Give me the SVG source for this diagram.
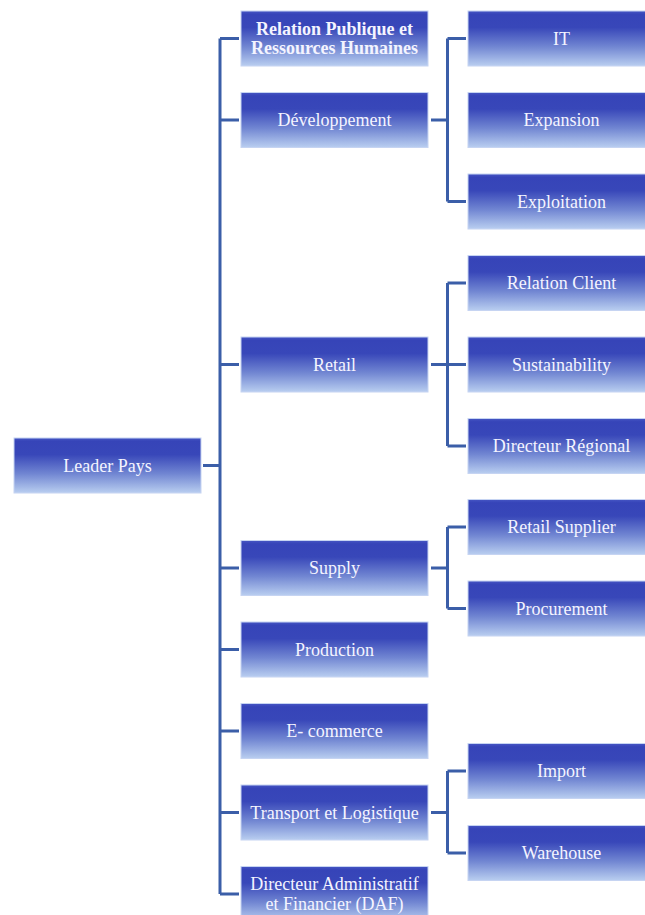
<svg xmlns="http://www.w3.org/2000/svg" width="645" height="915" viewBox="0 0 645 915">
<defs>
<linearGradient id="g" x1="0" y1="0" x2="0" y2="1">
<stop offset="0" stop-color="#4656c4"/>
<stop offset="0.06" stop-color="#3644b8"/>
<stop offset="0.3" stop-color="#3847b9"/>
<stop offset="0.65" stop-color="#7186d2"/>
<stop offset="1" stop-color="#b9cef0"/>
</linearGradient>
</defs>
<style>
.b{fill:url(#g);stroke:#c6d4f2;stroke-width:1}
.t{font-family:"Liberation Serif","Times New Roman",serif;font-size:18px;fill:#f4f4ff;text-anchor:middle}
.bd{font-weight:bold}
.c{fill:none;stroke:#3b5ea8;stroke-width:3}
</style>
<g id="connectors">
<path class="c" d="M203 465.5H220M220 38.5V894M220 38.5H239M220 120H239M220 364.5H239M220 568H239M220 649.5H239M220 731H239M220 812.5H239M220 894H239"/>
<path class="c" d="M431 120H447.5M447.5 38.5V201.5M447.5 38.5H466M447.5 201.5H466"/>
<path class="c" d="M431 364.5H466M447.5 283V446M447.5 283H466M447.5 446H466"/>
<path class="c" d="M431 568H447.5M447.5 527V608.5M447.5 527H466M447.5 608.5H466"/>
<path class="c" d="M431 812.5H447.5M447.5 771V853M447.5 771H466M447.5 853H466"/>
</g>
<g id="leader"><rect class="b" x="14" y="438" width="187" height="55"/><text class="t" x="107.5" y="471.5">Leader Pays</text></g>
<g id="rp"><rect class="b" x="241" y="11" width="187" height="55"/><text class="t bd" x="334.5" y="34.5">Relation Publique et</text><text class="t bd" x="334.5" y="53.5">Ressources Humaines</text></g>
<g id="dev"><rect class="b" x="241" y="92.5" width="187" height="55"/><text class="t" x="334.5" y="126">Développement</text></g>
<g id="retail"><rect class="b" x="241" y="337" width="187" height="55"/><text class="t" x="334.5" y="370.5">Retail</text></g>
<g id="supply"><rect class="b" x="241" y="540.5" width="187" height="55"/><text class="t" x="334.5" y="574">Supply</text></g>
<g id="production"><rect class="b" x="241" y="622" width="187" height="55"/><text class="t" x="334.5" y="655.5">Production</text></g>
<g id="ecommerce"><rect class="b" x="241" y="703.5" width="187" height="55"/><text class="t" x="334.5" y="737">E- commerce</text></g>
<g id="transport"><rect class="b" x="241" y="785" width="187" height="55"/><text class="t" x="334.5" y="818.5">Transport et Logistique</text></g>
<g id="daf"><rect class="b" x="241" y="866.5" width="187" height="55"/><text class="t" x="334.5" y="890">Directeur Administratif</text><text class="t" x="334.5" y="910">et Financier (DAF)</text></g>
<g id="it"><rect class="b" x="468" y="11" width="187" height="55"/><text class="t" x="561.5" y="44.5">IT</text></g>
<g id="expansion"><rect class="b" x="468" y="92.5" width="187" height="55"/><text class="t" x="561.5" y="126">Expansion</text></g>
<g id="exploitation"><rect class="b" x="468" y="174" width="187" height="55"/><text class="t" x="561.5" y="207.5">Exploitation</text></g>
<g id="relclient"><rect class="b" x="468" y="255.5" width="187" height="55"/><text class="t" x="561.5" y="289">Relation Client</text></g>
<g id="sustain"><rect class="b" x="468" y="337" width="187" height="55"/><text class="t" x="561.5" y="370.5">Sustainability</text></g>
<g id="dirreg"><rect class="b" x="468" y="418.5" width="187" height="55"/><text class="t" x="561.5" y="452">Directeur Régional</text></g>
<g id="retsup"><rect class="b" x="468" y="499.5" width="187" height="55"/><text class="t" x="561.5" y="533">Retail Supplier</text></g>
<g id="procurement"><rect class="b" x="468" y="581" width="187" height="55"/><text class="t" x="561.5" y="614.5">Procurement</text></g>
<g id="import"><rect class="b" x="468" y="743.5" width="187" height="55"/><text class="t" x="561.5" y="777">Import</text></g>
<g id="warehouse"><rect class="b" x="468" y="825.5" width="187" height="55"/><text class="t" x="561.5" y="859">Warehouse</text></g>
</svg>
